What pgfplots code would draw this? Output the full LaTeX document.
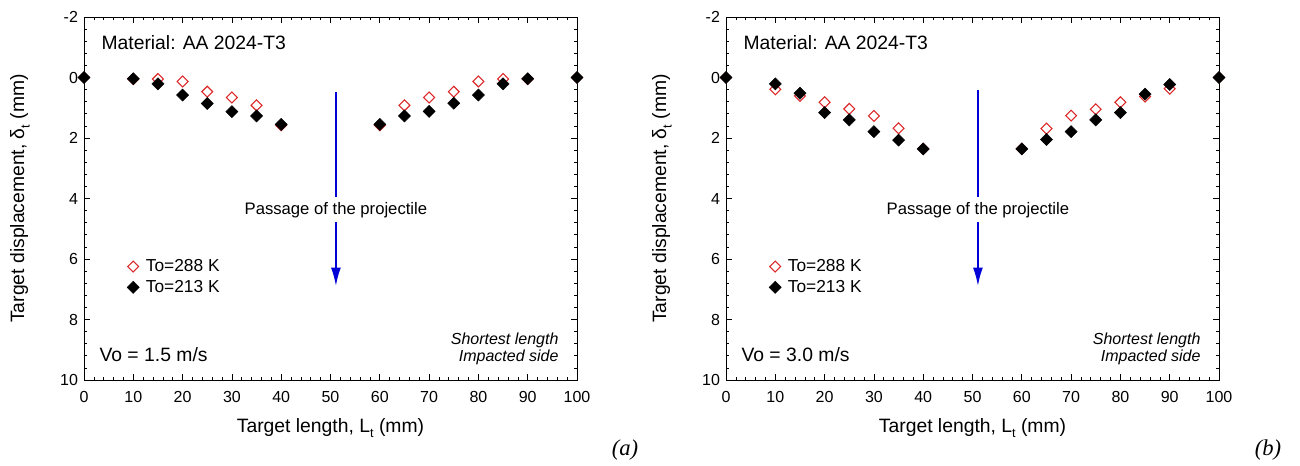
\documentclass[border=0pt]{standalone}
\usepackage{pgfplots}
\pgfplotsset{compat=1.18}
\usepackage{fontspec}
\setmainfont{Liberation Sans}
\newfontfamily\timesfont{Liberation Serif}
\usetikzlibrary{arrows.meta}
\definecolor{myred}{RGB}{220,40,40}
\definecolor{myblue}{RGB}{0,0,215}
\newcommand{\sub}[1]{\raisebox{-0.55ex}{\fontsize{9.5}{10}\selectfont #1}}

\pgfplotstableread{
x   y
0   0
10  0.05
15  0.05
20  0.13
25  0.47
30  0.66
35  0.92
40  1.58
60  1.58
65  0.92
70  0.66
75  0.47
80  0.13
85  0.05
90  0.05
100 0
}\redA
\pgfplotstableread{
x   y
0   0
10  0.04
15  0.21
20  0.58
25  0.86
30  1.13
35  1.27
40  1.55
60  1.55
65  1.27
70  1.12
75  0.85
80  0.58
85  0.21
90  0.04
100 0
}\blackA
\pgfplotstableread{
x   y
0   0
10  0.39
15  0.61
20  0.82
25  1.04
30  1.27
35  1.68
40  2.36
60  2.36
65  1.69
70  1.26
75  1.05
80  0.82
85  0.63
90  0.37
100 0
}\redB
\pgfplotstableread{
x   y
0   0
10  0.21
15  0.52
20  1.16
25  1.40
30  1.79
35  2.07
40  2.36
60  2.36
65  2.05
70  1.79
75  1.40
80  1.16
85  0.55
90  0.23
100 0
}\blackB

\pgfplotsset{
  panel/.style={
    scale only axis, width=369.75pt, height=272.25pt,
    xmin=0, xmax=100, ymin=-2, ymax=10, y dir=reverse,
    xtick={0,10,...,100}, ytick={-2,0,...,10},
    minor x tick num=4, minor y tick num=4,
    major tick length=4.5pt, minor tick length=2.25pt,
    tick style={black, line width=0.5pt},
    axis line style={line width=0.6pt},
    /pgf/number format/assume math mode=true,
    ticklabel style={font=\fontsize{12}{14}\selectfont},
    xticklabel style={yshift=-5pt},
    yticklabel style={xshift=-1pt},
    xlabel={Target length, L\sub{t} (mm)},
    ylabel={Target displacement, δ\sub{t} (mm)},
    label style={font=\fontsize{14.5}{17}\selectfont},
    xlabel style={at={(axis description cs:0.5,-0.132)}, anchor=center},
    ylabel style={at={(axis description cs:-0.13,0.5)}, anchor=center},
    legend style={at={(axis description cs:0.087,0.34)}, anchor=north west,
      draw=none, fill=none, font=\fontsize{13}{15}\selectfont, row sep=1pt,
      inner sep=0pt, /tikz/every odd column/.append style={column sep=3pt}},
    legend cell align=left,
    redmark/.style={only marks, mark=square, mark size=2.9pt,
      mark options={rotate=45, draw=myred, fill=white, line width=0.8pt}},
    blackmark/.style={only marks, mark=square*, mark size=3.2pt,
      mark options={rotate=45, draw=black, fill=black}},
  }
}

\begin{document}
\begin{tikzpicture}
\path[use as bounding box] (0pt,0pt) rectangle (975pt,-349.5pt);

\begin{axis}[panel, at={(63pt,-285pt)}, anchor=south west]
\addplot[redmark] table {\redA};
\addlegendentry{To=288 K}
\addplot[blackmark] table {\blackA};
\addlegendentry{To=213 K}
\draw[myblue, line width=1.5pt] (axis cs:51.1,0.48) -- (axis cs:51.1,3.95);
\draw[myblue, line width=1.5pt, -{Latex[length=14pt,width=7.5pt]}] (axis cs:51.1,4.78) -- (axis cs:51.1,6.9);
\node[font=\fontsize{12.5}{15}\selectfont] at (axis cs:51.1,4.38) {Passage of the projectile};
\node[anchor=west, font=\fontsize{14.5}{17}\selectfont] at (axis cs:2.6,-1.17) {Material: AA 2024-T3};
\node[anchor=west, font=\fontsize{14.5}{17}\selectfont] at (axis cs:2.2,9.17) {Vo = 1.5 m/s};
\node[anchor=east, align=right, font=\fontsize{12}{12.75}\itshape\selectfont] at (axis cs:97.2,8.96) {Shortest length\\Impacted side};
\end{axis}

\begin{axis}[panel, at={(544.5pt,-285pt)}, anchor=south west]
\addplot[redmark] table {\redB};
\addlegendentry{To=288 K}
\addplot[blackmark] table {\blackB};
\addlegendentry{To=213 K}
\draw[myblue, line width=1.5pt] (axis cs:51.1,0.42) -- (axis cs:51.1,3.95);
\draw[myblue, line width=1.5pt, -{Latex[length=14pt,width=7.5pt]}] (axis cs:51.1,4.78) -- (axis cs:51.1,6.9);
\node[font=\fontsize{12.5}{15}\selectfont] at (axis cs:51.1,4.38) {Passage of the projectile};
\node[anchor=west, font=\fontsize{14.5}{17}\selectfont] at (axis cs:2.6,-1.17) {Material: AA 2024-T3};
\node[anchor=west, font=\fontsize{14.5}{17}\selectfont] at (axis cs:2.2,9.17) {Vo = 3.0 m/s};
\node[anchor=east, align=right, font=\fontsize{12}{12.75}\itshape\selectfont] at (axis cs:97.2,8.96) {Shortest length\\Impacted side};
\end{axis}

\node[font=\timesfont\fontsize{17}{19}\itshape\selectfont] at (468.75pt,-337.5pt) {(a)};
\node[font=\timesfont\fontsize{17}{19}\itshape\selectfont] at (951pt,-337.5pt) {(b)};
\end{tikzpicture}
\end{document}
